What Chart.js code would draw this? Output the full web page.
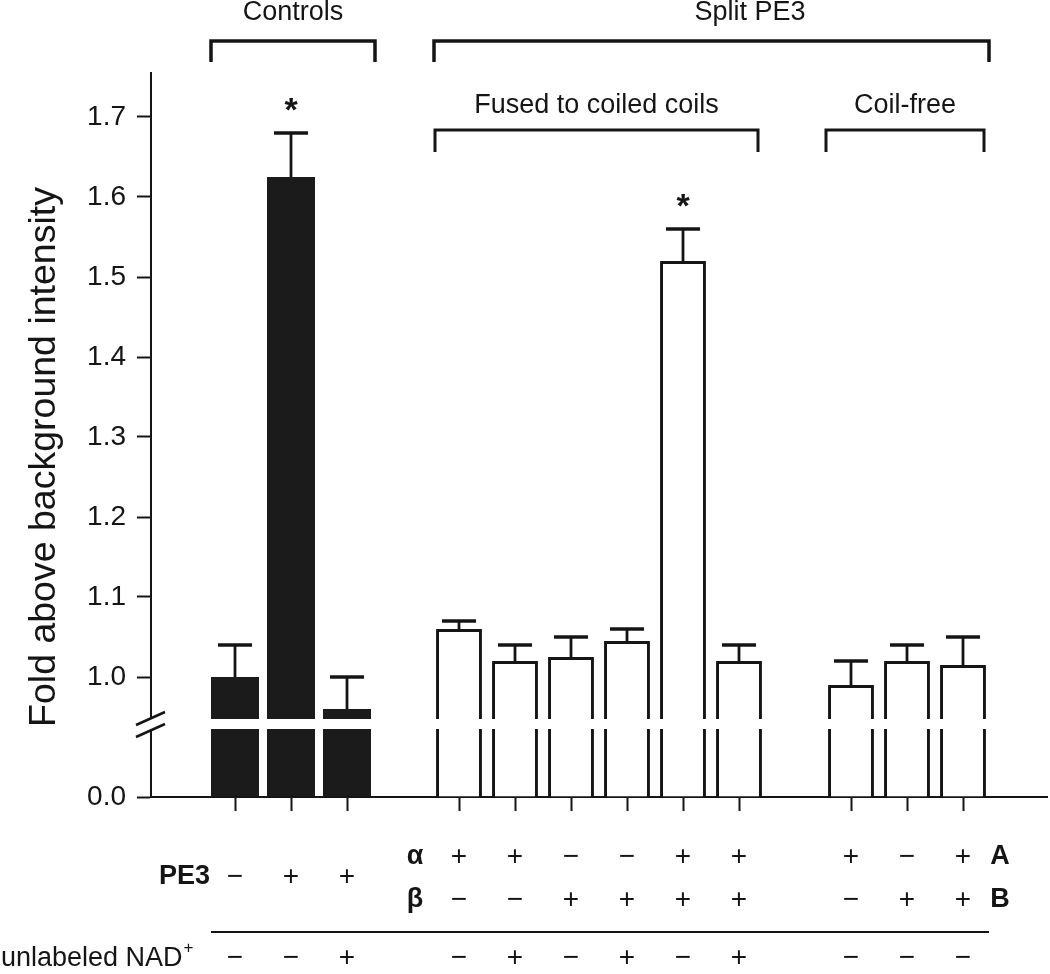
<!DOCTYPE html>
<html><head><meta charset="utf-8">
<script src="https://cdn.jsdelivr.net/npm/chart.js@4.4.1/dist/chart.umd.min.js"></script>
<style>html,body{margin:0;padding:0;background:#fff;}#wrap{width:1050px;height:974px;}</style>
</head><body><div id="wrap"><canvas id="c" width="1050" height="974"></canvas></div>
<script>
// ---- data ----
const categories = ['', 'C1', 'C2', 'C3', '', 'F1', 'F2', 'F3', 'F4', 'F5', 'F6', '', 'CF1', 'CF2', 'CF3', ''];
const controlCats = ['C1', 'C2', 'C3'];
const fusedCats = ['F1', 'F2', 'F3', 'F4', 'F5', 'F6'];
const coilFreeCats = ['CF1', 'CF2', 'CF3'];
const controlMeans = [1.00, 1.625, 0.96];
const controlErrors = [0.04, 0.055, 0.04];
const fusedMeans = [1.06, 1.02, 1.025, 1.045, 1.52, 1.02];
const fusedErrors = [0.01, 0.02, 0.025, 0.015, 0.04, 0.02];
const coilFreeMeans = [0.99, 1.02, 1.015];
const coilFreeErrors = [0.03, 0.02, 0.035];
const significantCats = ['C2', 'F5'];
const yTickValues = [0.0, 1.0, 1.1, 1.2, 1.3, 1.4, 1.5, 1.6, 1.7];
const pe3Row = ['−', '+', '+'];
const alphaRow = ['+', '+', '−', '−', '+', '+'];
const betaRow = ['−', '−', '+', '+', '+', '+'];
const coilARow = ['+', '−', '+'];
const coilBRow = ['−', '+', '+'];
const nadControls = ['−', '−', '+'];
const nadFused = ['−', '+', '−', '+', '−', '+'];
const nadCoilFree = ['−', '−', '−'];
// broken axis: 0.0 is drawn at 0.85 on the axis; break band between 0.935 and 0.9475
const AXIS_ZERO_AT = 0.85;
const BREAK_FROM = 0.935, BREAK_TO = 0.9475;
const toAxis = v => (v === 0 ? AXIS_ZERO_AT : v);

const FONT = '"Liberation Sans", Arial, sans-serif';
Chart.defaults.font.family = FONT;

function spread(cats, vals) {
  const arr = categories.map(() => null);
  cats.forEach((c, i) => { arr[categories.indexOf(c)] = vals[i]; });
  return arr;
}
const blackData = spread(controlCats, controlMeans);
const whiteData = spread(fusedCats.concat(coilFreeCats), fusedMeans.concat(coilFreeMeans));
const allMeans = spread(controlCats.concat(fusedCats, coilFreeCats), controlMeans.concat(fusedMeans, coilFreeMeans));
const allErrors = spread(controlCats.concat(fusedCats, coilFreeCats), controlErrors.concat(fusedErrors, coilFreeErrors));

const INK = '#151515';

const decor = {
  id: 'decor',
  afterDatasetsDraw(chart) {
    const ctx = chart.ctx, xs = chart.scales.x, ys = chart.scales.y, area = chart.chartArea;
    const X = c => xs.getPixelForValue(categories.indexOf(c));
    ctx.save();
    // break band across bars
    const yb1 = ys.getPixelForValue(BREAK_TO), yb2 = ys.getPixelForValue(BREAK_FROM);
    ctx.fillStyle = '#fff';
    ctx.fillRect(area.left + 2, yb1, area.right - area.left, yb2 - yb1);
    // axis break
    ctx.fillRect(area.left - 7, yb1 - 1, 14, yb2 - yb1 + 3);
    ctx.strokeStyle = INK; ctx.lineWidth = 2.5;
    ctx.beginPath();
    ctx.moveTo(area.left - 15, yb1 + 6); ctx.lineTo(area.left + 14, yb1 - 7);
    ctx.moveTo(area.left - 15, yb2 + 8); ctx.lineTo(area.left + 14, yb2 - 5);
    ctx.stroke();
    // error bars
    allMeans.forEach((m, i) => {
      if (m == null) return;
      const x = xs.getPixelForValue(i);
      const y0 = ys.getPixelForValue(m), y1 = ys.getPixelForValue(m + allErrors[i]);
      ctx.strokeStyle = INK;
      ctx.lineWidth = 2.8;
      ctx.beginPath(); ctx.moveTo(x, y0); ctx.lineTo(x, y1); ctx.stroke();
      ctx.lineWidth = 3.5;
      ctx.beginPath(); ctx.moveTo(x - 17, y1); ctx.lineTo(x + 17, y1); ctx.stroke();
    });
    // significance stars
    ctx.fillStyle = INK;
    ctx.font = 'bold 34px ' + FONT;
    ctx.textAlign = 'center'; ctx.textBaseline = 'middle';
    significantCats.forEach(c => {
      const i = categories.indexOf(c);
      const y1 = ys.getPixelForValue(allMeans[i] + allErrors[i]);
      ctx.fillText('*', X(c), y1 - 21);
    });
    // brackets
    function bracket(x1, x2, y, legY, w) {
      ctx.lineWidth = w; ctx.strokeStyle = INK;
      ctx.beginPath();
      ctx.moveTo(x1, legY); ctx.lineTo(x1, y); ctx.lineTo(x2, y); ctx.lineTo(x2, legY);
      ctx.stroke();
    }
    bracket(X('C1') - 24, X('C3') + 28, 41, 62, 3.5);
    bracket(X('F1') - 25, X('CF3') + 26, 41, 62, 3.5);
    bracket(X('F1') - 24, X('F6') + 19, 130, 152, 3);
    bracket(X('CF1') - 25, X('CF3') + 21, 130, 152, 3);
    ctx.font = '27px ' + FONT;
    ctx.textBaseline = 'middle';
    ctx.fillText('Controls', (X('C1') - 24 + X('C3') + 28) / 2, 13);
    ctx.fillText('Split PE3', X('F6') + 11, 13);
    ctx.fillText('Fused to coiled coils', (X('F1') - 24 + X('F6') + 19) / 2, 106);
    ctx.fillText('Coil-free', (X('CF1') - 25 + X('CF3') + 21) / 2, 106);
    // y title
    ctx.save();
    ctx.translate(45, 457);
    ctx.rotate(-Math.PI / 2);
    ctx.font = '37.5px ' + FONT;
    ctx.fillText('Fold above background intensity', 0, 0);
    ctx.restore();
    // condition table
    const signFont = '28px ' + FONT, boldFont = 'bold 27px ' + FONT;
    function row(cats, vals, y) {
      ctx.font = signFont; ctx.textAlign = 'center';
      cats.forEach((c, i) => ctx.fillText(vals[i], X(c), y));
    }
    row(controlCats, pe3Row, 877);
    row(fusedCats, alphaRow, 857);
    row(coilFreeCats, coilARow, 857);
    row(fusedCats, betaRow, 900);
    row(coilFreeCats, coilBRow, 900);
    row(controlCats, nadControls, 958);
    row(fusedCats, nadFused, 958);
    row(coilFreeCats, nadCoilFree, 958);
    ctx.font = boldFont;
    ctx.textAlign = 'right';
    ctx.fillText('PE3', X('C1') - 25, 877);
    ctx.textAlign = 'center';
    ctx.fillText('α', X('F1') - 44, 857);
    ctx.fillText('β', X('F1') - 44, 900);
    ctx.fillText('A', X('CF3') + 37, 857);
    ctx.fillText('B', X('CF3') + 37, 900);
    ctx.lineWidth = 2;
    ctx.beginPath();
    ctx.moveTo(X('C1') - 24, 932); ctx.lineTo(X('CF3') + 26, 932); ctx.stroke();
    ctx.textAlign = 'left';
    ctx.font = '27px ' + FONT;
    ctx.fillText('unlabeled NAD', 1, 959);
    const w = ctx.measureText('unlabeled NAD').width;
    ctx.font = '17px ' + FONT;
    ctx.fillText('+', 2 + w, 948);
    ctx.restore();
  }
};

new Chart(document.getElementById('c'), {
  type: 'bar',
  data: {
    labels: categories,
    datasets: [
      { data: blackData, backgroundColor: '#1b1b1b', borderWidth: 0, barPercentage: 0.857, categoryPercentage: 1, grouped: false, base: AXIS_ZERO_AT },
      { data: whiteData, backgroundColor: '#ffffff', borderColor: INK, borderWidth: 3, borderSkipped: 'start', barPercentage: 0.82, categoryPercentage: 1, grouped: false, base: AXIS_ZERO_AT }
    ]
  },
  options: {
    responsive: false, animation: false, devicePixelRatio: 1,
    layout: { padding: { top: 73, right: 3, bottom: 0, left: 0 } },
    plugins: { legend: { display: false }, tooltip: { enabled: false } },
    events: [],
    scales: {
      x: {
        offset: true,
        grid: { offset: false, drawOnChartArea: false, drawTicks: true, tickLength: 14, tickWidth: 2,
          tickColor: c => (categories[c.index] ? INK : 'rgba(0,0,0,0)') },
        border: { display: true, width: 2, color: INK },
        ticks: { display: false },
        afterFit: s => { s.height = 177; }
      },
      y: {
        min: AXIS_ZERO_AT, max: 1.755,
        afterBuildTicks: s => { s.ticks = yTickValues.map(v => ({ value: toAxis(v) })); },
        ticks: {
          color: INK, font: { size: 28 }, padding: 11,
          callback: value => {
            const v = yTickValues.find(t => Math.abs(toAxis(t) - value) < 1e-9);
            return v == null ? '' : v.toFixed(1);
          }
        },
        grid: { drawOnChartArea: false, drawTicks: true, tickLength: 14, tickWidth: 2, tickColor: INK },
        border: { display: true, width: 2, color: INK },
        afterFit: s => { s.width = 151; }
      }
    }
  },
  plugins: [decor]
});
</script>
</body></html>
